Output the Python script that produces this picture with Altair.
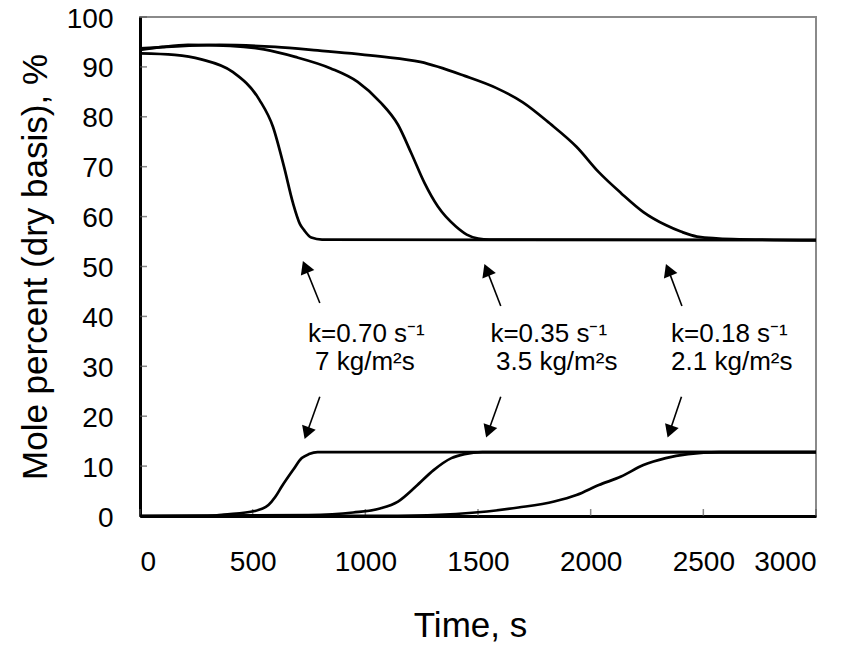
import altair as alt
import pandas as pd

# ---- data ----
# upper curves (falling)
t_hi_a = [0, 154, 272, 411, 530, 590, 639, 679, 710, 728, 760, 808, 3000]
v_hi_a = [92.7, 92.4, 91.5, 89.0, 83.4, 78.0, 70.0, 62.7, 58.5, 57.3, 55.8, 55.4, 55.3]

t_hi_b = [0, 100, 213, 400, 550, 689, 847, 966, 1065, 1145, 1204, 1263, 1322, 1402, 1450, 1501, 1550, 3000]
v_hi_b = [93.4, 94.0, 94.4, 94.2, 93.5, 92.0, 89.7, 87.0, 83.0, 78.4, 72.7, 66.7, 62.0, 58.0, 56.4, 55.6, 55.4, 55.3]

t_hi_c = [0, 200, 352, 600, 788, 1065, 1244, 1441, 1580, 1699, 1818, 1937, 2036, 2135, 2234, 2333, 2400, 2472, 2630, 3000]
v_hi_c = [93.7, 94.2, 94.4, 94.0, 93.3, 92.1, 91.0, 88.2, 85.8, 82.9, 78.7, 74.0, 68.9, 64.7, 60.9, 58.3, 57.0, 56.0, 55.5, 55.3]

# lower curves (rising)
t_lo_a = [0, 300, 372, 510, 570, 600, 629, 679, 718, 750, 788, 3000]
v_lo_a = [0, 0, 0.3, 1.0, 2.2, 3.8, 5.9, 9.2, 11.6, 12.4, 12.8, 12.8]

t_lo_b = [0, 748, 946, 1065, 1145, 1224, 1303, 1382, 1440, 1520, 3000]
v_lo_b = [0, 0.2, 0.7, 1.5, 2.9, 5.9, 9.2, 11.6, 12.4, 12.8, 12.8]

t_lo_c = [0, 1145, 1402, 1540, 1679, 1838, 1937, 2036, 2135, 2234, 2333, 2432, 2571, 3000]
v_lo_c = [0, 0.05, 0.4, 0.9, 1.7, 2.9, 4.2, 6.2, 7.9, 10.2, 11.6, 12.4, 12.8, 12.8]

# annotation labels
label_line1 = ["k=0.70 s\u207b\u00b9", "k=0.35 s\u207b\u00b9", "k=0.18 s\u207b\u00b9"]
label_line2 = ["7 kg/m\u00b2s", "3.5 kg/m\u00b2s", "2.1 kg/m\u00b2s"]
label1_t = [746, 1555, 2357]
label2_t = [777, 1580, 2357]
label1_v = [34.9, 34.9, 34.9]
label2_v = [29.3, 29.3, 29.3]

# arrows (tail -> tip), in data units
up_tail_t = [798, 1601, 2405]
up_tail_v = [42.7, 42.1, 42.1]
up_tip_t = [721, 1527, 2333]
up_tip_v = [51.3, 50.7, 50.7]
dn_tail_t = [798, 1601, 2403]
dn_tail_v = [23.9, 23.9, 23.9]
dn_tip_t = [729, 1535, 2341]
dn_tip_v = [15.2, 15.6, 15.6]

x_ticks = [0, 500, 1000, 1500, 2000, 2500, 3000]
y_ticks = [0, 10, 20, 30, 40, 50, 60, 70, 80, 90, 100]

FONT = "Liberation Sans"

# ---- tables ----
rows = []
for name, ts, vs in [("hi_a", t_hi_a, v_hi_a), ("hi_b", t_hi_b, v_hi_b), ("hi_c", t_hi_c, v_hi_c),
                     ("lo_a", t_lo_a, v_lo_a), ("lo_b", t_lo_b, v_lo_b), ("lo_c", t_lo_c, v_lo_c)]:
    for t, v in zip(ts, vs):
        rows.append({"series": name, "t": t, "v": v})
curves = pd.DataFrame(rows)

labels1 = pd.DataFrame({"t": label1_t, "v": label1_v, "txt": label_line1})
labels2 = pd.DataFrame({"t": label2_t, "v": label2_v, "txt": label_line2})

def arrow_df(tt, tv, pt, pv):
    f = 0.16
    return pd.DataFrame({
        "t": tt, "v": tv, "t2": pt, "v2": pv,
        "ht": [p + f * (a - p) for a, p in zip(tt, pt)],
        "hv": [p + f * (a - p) for a, p in zip(tv, pv)],
    })

up = arrow_df(up_tail_t, up_tail_v, up_tip_t, up_tip_v)
dn = arrow_df(dn_tail_t, dn_tail_v, dn_tip_t, dn_tip_v)

xscale = alt.Scale(domain=[0, 3000], nice=False)
yscale = alt.Scale(domain=[0, 100], nice=False)

xaxis = alt.Axis(values=x_ticks, format="d", labelPadding=32, title="Time, s",
                 titlePadding=32, titleX=330)
yaxis = alt.Axis(values=y_ticks, format="d", labelPadding=27, labelOffset=2,
                 title="Mole percent (dry basis), %", titlePadding=13)

lines = alt.Chart(curves).mark_line(color="black", strokeWidth=2.7, interpolate="monotone").encode(
    x=alt.X("t:Q", scale=xscale, axis=xaxis),
    y=alt.Y("v:Q", scale=yscale, axis=yaxis),
    detail="series:N",
)

ytick_layer = alt.Chart(pd.DataFrame({"v": y_ticks})).mark_tick(
    color="#555555", size=7, thickness=1.5
).encode(y=alt.Y("v:Q", scale=yscale), x=alt.value(3.5))

xtick_layer = alt.Chart(pd.DataFrame({"t": x_ticks})).mark_tick(
    color="#555555", size=7, thickness=1.5
).encode(x=alt.X("t:Q", scale=xscale), y=alt.value(499 - 3.5))

def shafts(df):
    return alt.Chart(df).mark_rule(color="black", strokeWidth=1.6).encode(
        x=alt.X("t:Q", scale=xscale), y=alt.Y("v:Q", scale=yscale),
        x2="ht:Q", y2="hv:Q")

def heads(df, ang):
    return alt.Chart(df).mark_point(shape="triangle-up", filled=True, color="black",
                                    opacity=1, size=210, angle=ang).encode(
        x=alt.X("ht:Q", scale=xscale), y=alt.Y("hv:Q", scale=yscale))

txt1 = alt.Chart(labels1).mark_text(align="left", baseline="alphabetic", font=FONT,
                                    fontSize=26, color="black").encode(
    x=alt.X("t:Q", scale=xscale), y=alt.Y("v:Q", scale=yscale), text="txt:N")
txt2 = alt.Chart(labels2).mark_text(align="left", baseline="alphabetic", font=FONT,
                                    fontSize=26, color="black").encode(
    x=alt.X("t:Q", scale=xscale), y=alt.Y("v:Q", scale=yscale), text="txt:N")

chart = alt.layer(
    ytick_layer, xtick_layer, lines,
    shafts(up), heads(up, 338), shafts(dn), heads(dn, 200),
    txt1, txt2,
).properties(
    width=676, height=499,
    autosize=alt.AutoSizeParams(type="none"),
    padding={"left": 132, "top": 9, "right": 20, "bottom": 126},
    background="white",
).configure_view(
    stroke="#8a8a8a", strokeWidth=2
).configure_axis(
    grid=False, ticks=False, domainColor="black", domainWidth=3,
    labelFont=FONT, labelFontSize=28, labelColor="black",
    titleFont=FONT, titleFontSize=35, titleFontWeight="normal", titleColor="black",
)

chart.save("out.html", embed_options={"renderer": "svg", "actions": False})
